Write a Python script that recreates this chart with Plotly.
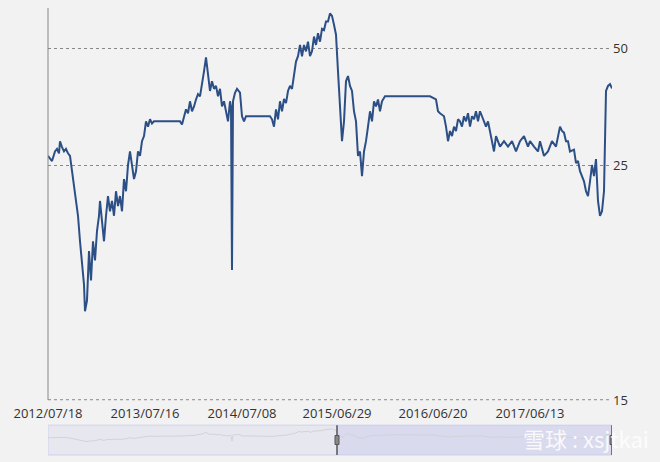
import plotly.graph_objects as go

idx = [0,2,4,7,9,11,12,14,16,18,20,22,24,26,28,30,32,34,36,37,39,41,43,45,47,49,51,52,54,56,58,60,62,64,66,68,70,72,74,76,78,80,82,84,86,88,90,92,94,96,98,100,102,104,106,112,122,132,134,136,138,140,142,144,146,148,150,152,154,156,158,160,162,164,166,168,170,172,174,176,178,180,182,183,184,185,187,189,192,194,196,198,202,212,222,224,226,228,230,232,234,236,238,240,242,244,246,248,250,252,254,256,258,260,262,264,266,268,270,272,274,276,278,280,282,284,286,288,290,292,294,296,298,300,302,304,306,308,310,312,314,316,318,320,322,324,326,328,330,332,334,337,342,352,362,372,382,388,390,392,396,398,400,402,404,406,408,410,412,414,416,418,420,422,424,426,428,430,432,434,436,438,440,442,444,446,448,450,452,456,460,464,468,472,476,480,482,486,490,492,496,500,504,508,512,514,516,518,520,522,526,528,530,532,534,536,538,540,542,544,546,548,550,552,554,556,558,560,562,564]
vals = [26.4,25.9,25.6,27.1,27.5,26.8,28.8,27.8,27.1,27.5,26.8,26.4,24.3,22.4,20.2,18.5,15.9,14.2,12.3,10.5,11.2,15.0,12.6,15.9,14.2,16.9,18.5,20.2,18.0,15.9,18.5,20.8,19.0,20.2,18.5,21.4,19.6,20.8,19.0,23.0,21.4,25.0,27.1,24.9,23.0,24.1,27.1,26.4,28.8,29.7,32.4,31.4,32.8,32.0,32.4,32.4,32.4,32.4,31.8,33.4,34.8,34.0,36.5,34.4,35.4,36.9,38.1,37.6,41.1,43.6,47.4,42.4,38.8,41.1,39.3,40.0,37.6,39.3,35.4,36.5,34.4,32.4,36.5,35.4,13.4,36.5,38.4,39.3,38.4,33.4,32.4,33.4,33.4,33.4,33.4,32.8,31.4,34.8,32.8,36.5,34.4,37.0,36.1,38.8,40.0,39.3,42.4,46.2,47.7,51.0,47.7,51.0,49.1,52.0,47.7,49.1,53.6,51.0,54.7,52.0,56.1,55.7,58.6,58.6,61.5,60.6,57.5,54.2,43.6,36.5,28.8,32.4,41.1,42.4,40.0,38.8,34.4,32.4,26.4,27.1,23.4,27.1,28.8,31.4,34.4,32.4,36.5,35.4,36.9,34.4,36.5,37.6,37.6,37.6,37.6,37.6,37.6,36.9,34.4,34.0,33.4,31.4,28.8,30.6,29.7,31.4,30.6,32.8,32.4,31.4,33.4,32.4,34.0,31.4,33.4,32.8,34.4,32.4,34.4,33.4,32.4,31.4,32.4,30.6,28.8,27.1,29.7,28.8,27.9,28.8,27.9,28.8,27.1,28.8,29.7,27.9,28.8,27.9,27.1,28.8,26.4,27.1,28.8,27.9,31.4,30.6,30.3,28.8,28.8,27.1,27.4,25.3,25.6,24.1,23.4,22.7,21.4,20.8,22.7,25.0,23.4,25.9,20.2,18.5,19.0,21.4,38.8,40.0,40.4,39.4]
tick_pos = [0,97,194,289,385,482]
tick_text = ["2012/07/18","2013/07/16","2014/07/08","2015/06/29","2016/06/20","2017/06/13"]

fig = go.Figure()
fig.add_trace(go.Scatter(x=idx, y=vals, mode="lines", line=dict(color="#2c4f86", width=2),
                         xaxis="x", yaxis="y", hoverinfo="skip"))
fig.add_trace(go.Scatter(x=idx, y=vals, mode="lines", line=dict(color="#d2d2d8", width=1),
                         xaxis="x2", yaxis="y2", hoverinfo="skip"))
ymin, ymax = 6.2, 63.5
fig.update_layout(
    width=660, height=462, margin=dict(l=48, r=48, t=8, b=4, autoexpand=False),
    paper_bgcolor="#f2f2f2", plot_bgcolor="#f2f2f2", showlegend=False,
    font=dict(family="Open Sans, sans-serif", size=13, color="#333"),
    xaxis=dict(domain=[0,1], range=[0,564], tickvals=tick_pos, ticktext=tick_text, automargin=False,
               showgrid=False, zeroline=False, showline=False, ticks="", anchor="y", ticklabelstandoff=4),
    yaxis=dict(domain=[0.129,1], type="log", range=[0.7924, 1.8028], side="right", automargin=False,
               tickvals=[ymin,25,50], ticktext=["15","25","50"], showgrid=True,
               gridcolor="#888", griddash="dot", gridwidth=1, zeroline=False,
               showline=False, ticks="", anchor="x"),
    xaxis2=dict(domain=[0,1], range=[0,564], visible=False, anchor="y2"),
    yaxis2=dict(domain=[0.0067,0.073], range=[-40,75], visible=False, anchor="x2"),
    shapes=[
        dict(type="line", xref="paper", yref="paper", x0=0, x1=0, y0=0.129, y1=1,
             line=dict(color="#888", width=1)),
        dict(type="line", xref="paper", yref="paper", x0=0, x1=1, y0=0.1295, y1=0.1295,
             line=dict(color="#888", width=1, dash="dot")),
        dict(type="rect", xref="x2", yref="paper", x0=0, x1=564, y0=0.0067, y1=0.073,
             fillcolor="rgba(200,200,230,0.25)", line=dict(color="#cfd2ec", width=1), layer="below"),
        dict(type="rect", xref="x2", yref="paper", x0=289, x1=564, y0=0.0067, y1=0.073,
             fillcolor="rgba(190,190,235,0.3)", line=dict(width=0), layer="below"),
        dict(type="line", xref="x2", yref="paper", x0=289, x1=289, y0=0.0067, y1=0.073,
             line=dict(color="#555", width=1.5)),
        dict(type="line", xref="x2", yref="paper", x0=564, x1=564, y0=0.0067, y1=0.073,
             line=dict(color="#555", width=1.5)),
        dict(type="rect", xref="x2", yref="paper", x0=287, x1=291, y0=0.03, y1=0.05,
             fillcolor="#888", line=dict(color="#555", width=1)),
        dict(type="rect", xref="x2", yref="paper", x0=562, x1=566, y0=0.03, y1=0.05,
             fillcolor="#888", line=dict(color="#555", width=1)),
    ],
    annotations=[dict(text="雪球 : xsjtkai", xref="paper", yref="paper", x=1.07, y=0.005,
                      xanchor="right", yanchor="bottom", showarrow=False,
                      font=dict(family="Noto Sans CJK SC", size=22, color="rgba(255,255,255,0.85)"))],
)
fig.write_html("out.html", config={"displayModeBar": False},
               post_script="document.body.style.margin='0';document.body.style.overflow='hidden';")
